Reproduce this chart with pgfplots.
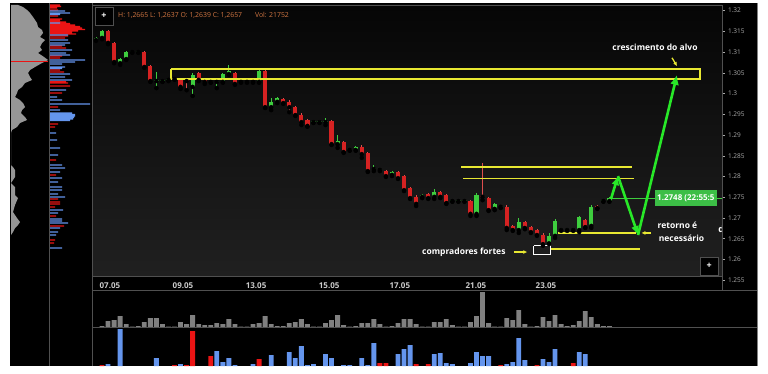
\documentclass[border=0pt]{standalone}
\usepackage{pgfplots}
\pgfplotsset{compat=1.18}
\usepackage{pgfplotstable}
\usepackage{fontspec}
\setmainfont{Open Sans}
\usetikzlibrary{arrows.meta}

\definecolor{cgreen}{RGB}{62,205,62}
\definecolor{cred}{RGB}{214,34,34}
\definecolor{yel}{RGB}{232,232,50}
\definecolor{arrg}{RGB}{40,232,40}
\definecolor{vgrey}{RGB}{128,128,128}
\definecolor{gprof}{RGB}{150,150,150}
\definecolor{vblue}{RGB}{100,149,237}
\definecolor{vred}{RGB}{235,20,20}
\definecolor{sep}{RGB}{80,80,80}
\definecolor{hdr}{RGB}{210,118,66}
\definecolor{lbl}{RGB}{205,205,205}
\definecolor{plbl}{RGB}{170,170,170}
\definecolor{bgtop}{RGB}{6,6,6}
\definecolor{bgbot}{RGB}{32,32,32}
\definecolor{pbox}{RGB}{60,190,70}

% candles: index, open, high, low, close
\pgfplotstableread{
i o h l c
0 1.3129 1.3136 1.3127 1.3134
1 1.3134 1.3153 1.3131 1.3151
4 1.3073 1.3086 1.3069 1.3083
5 1.3083 1.3102 1.3081 1.3100
6 1.3100 1.3104 1.3098 1.3102
7 1.3100 1.3104 1.3098 1.3102
10 1.3030 1.3052 1.3013 1.3033
11 1.3030 1.3035 1.3028 1.3033
12 1.3033 1.3037 1.3030 1.3035
13 1.3035 1.3040 1.3033 1.3037
16 1.3016 1.3049 1.2994 1.3045
20 1.3028 1.3037 1.3013 1.3030
21 1.3028 1.3049 1.3026 1.3047
22 1.3047 1.3069 1.3045 1.3054
24 1.3028 1.3033 1.3026 1.3030
25 1.3028 1.3033 1.3026 1.3030
26 1.3028 1.3033 1.3026 1.3030
27 1.3028 1.3057 1.3026 1.3054
29 1.2967 1.2989 1.2960 1.2980
30 1.2980 1.2992 1.2977 1.2989
36 1.2931 1.2936 1.2929 1.2934
37 1.2931 1.2936 1.2929 1.2934
38 1.2931 1.2941 1.2924 1.2934
40 1.2878 1.2900 1.2869 1.2886
42 1.2864 1.2869 1.2862 1.2866
43 1.2864 1.2874 1.2862 1.2871
46 1.2818 1.2828 1.2813 1.2820
47 1.2816 1.2820 1.2813 1.2818
49 1.2804 1.2813 1.2801 1.2811
54 1.2751 1.2758 1.2748 1.2755
56 1.2751 1.2770 1.2746 1.2763
59 1.2741 1.2746 1.2739 1.2743
60 1.2741 1.2746 1.2739 1.2743
61 1.2741 1.2746 1.2739 1.2743
63 1.2710 1.2760 1.2705 1.2755
66 1.2722 1.2736 1.2719 1.2734
67 1.2727 1.2731 1.2724 1.2729
70 1.2671 1.2700 1.2664 1.2690
75 1.2639 1.2665 1.2637 1.2657
76 1.2657 1.2698 1.2652 1.2693
77 1.2671 1.2676 1.2669 1.2673
78 1.2671 1.2676 1.2669 1.2673
79 1.2671 1.2676 1.2669 1.2673
80 1.2671 1.2705 1.2666 1.2702
82 1.2681 1.2731 1.2676 1.2727
84 1.2741 1.2746 1.2739 1.2743
85 1.2741 1.2751 1.2739 1.2748
}\bull

\pgfplotstableread{
i o h l c
2 1.3151 1.3153 1.3119 1.3122
3 1.3122 1.3124 1.3073 1.3076
8 1.3100 1.3102 1.3062 1.3064
9 1.3066 1.3068 1.3028 1.3030
14 1.3035 1.3037 1.3011 1.3016
15 1.3033 1.3035 1.3008 1.3030
17 1.3049 1.3052 1.3030 1.3033
18 1.3035 1.3037 1.3023 1.3028
19 1.3030 1.3033 1.3026 1.3028
23 1.3049 1.3052 1.3021 1.3023
28 1.3054 1.3057 1.2965 1.2967
31 1.2987 1.2989 1.2975 1.2977
32 1.2980 1.2984 1.2955 1.2967
33 1.2967 1.2970 1.2946 1.2948
34 1.2948 1.2953 1.2924 1.2931
35 1.2936 1.2938 1.2920 1.2922
39 1.2934 1.2936 1.2876 1.2878
41 1.2883 1.2886 1.2857 1.2859
44 1.2871 1.2876 1.2845 1.2854
45 1.2857 1.2859 1.2811 1.2813
48 1.2813 1.2816 1.2799 1.2801
50 1.2811 1.2813 1.2794 1.2796
51 1.2801 1.2804 1.2765 1.2767
52 1.2772 1.2775 1.2746 1.2748
53 1.2751 1.2755 1.2729 1.2734
55 1.2758 1.2760 1.2746 1.2748
57 1.2763 1.2765 1.2748 1.2751
58 1.2755 1.2758 1.2734 1.2736
62 1.2741 1.2743 1.2705 1.2710
64 1.2753 1.2833 1.2743 1.2751
65 1.2748 1.2751 1.2717 1.2719
68 1.2727 1.2731 1.2671 1.2676
69 1.2681 1.2683 1.2669 1.2671
71 1.2690 1.2693 1.2673 1.2676
72 1.2678 1.2681 1.2664 1.2666
73 1.2671 1.2673 1.2657 1.2659
74 1.2659 1.2664 1.2633 1.2637
81 1.2695 1.2698 1.2676 1.2678
83 1.2729 1.2731 1.2722 1.2724
}\bear

\begin{document}
\begin{tikzpicture}
% frame and panels
\fill[white] (0pt,0pt) rectangle (768pt,-374pt);
\fill[black] (10pt,-3pt) rectangle (757pt,-366pt);
\shade[top color=bgtop, bottom color=bgbot] (92pt,-5pt) rectangle (722pt,-276pt);

% ---- left grey volume profile ----
\begin{axis}[at={(11pt,-5pt)}, anchor=north west, scale only axis,
  width=38pt, height=285pt, xmin=11, xmax=49, ymin=5, ymax=290,
  y dir=reverse, hide axis]
\addplot[fill=gprof, draw=none] coordinates {
(11,5) (18,5) (23,7) (27,10) (30,13) (33,17) (35,20) (37,23) (38,27) (42,30)
(43,33) (40,37) (45,40) (42,43) (40,47) (42,50) (38,53) (44,57) (48,60)
(42,63) (35,67) (30,70) (28,73) (30,77) (32,80) (25,83) (22,87) (18,90)
(17,93) (15,97) (20,100) (23,103) (25,107) (22,110) (21,113) (25,117)
(27,120) (20,123) (17,127) (12,130) (11,133) (11,165) (13,167) (15,170)
(15,177) (13,180) (11,183) (15,187) (15,195) (18,198) (15,205) (13,212)
(17,218) (20,222) (18,225) (15,228) (13,232) (11,235)};
\addplot[vred, line width=1pt] coordinates {(11,61) (48,61)};
\end{axis}

% ---- left red/blue profile ----
\begin{axis}[at={(50pt,-5pt)}, anchor=north west, scale only axis,
  width=42pt, height=285pt, xmin=50, xmax=92, ymin=5, ymax=290,
  y dir=reverse, hide axis, xbar, bar width=1.2, bar shift=0pt]
\addplot[fill=vred, draw=none] coordinates {
(60,5) (61,6.5) (57,8) (58,10) (58,16) (62,19) (60,20.5) (66,22) (70,23.5)
(75,25) (80,26.5) (82,28) (85,29.5) (78,31) (72,32.5) (76,34) (68,36) (65,38)
(62,46) (66,48) (62,56) (60,58) (60,70) (64,72) (66,81.5) (68,83) (70,86)
(62,93) (58,107) (58,124) (55,127) (56,160) (56,175) (58,199) (60,202)
(60,204) (55,207) (56,216) (64,226) (55,240) (54,243)};
\addplot[fill=vblue, draw=none] coordinates {
(65,11) (70,13) (60,14.5) (60,23) (68,35) (68,40) (70,43) (65,45) (72,50)
(66,53) (70,55) (85,60) (75,62) (62,64) (65,67) (62,68.5) (70,74) (65,77)
(72,80) (66,90) (57,97) (62,100) (90,104) (60,110) (72,113) (75,114.5)
(75,116) (74,117.5) (73,119) (70,120.5) (56,133) (57,140) (60,148) (58,155)
(62,165) (65,168) (60,172) (62,178) (58,182) (62,187) (62,190) (58,194)
(65,197) (63,210) (58,213) (62,219) (62,221) (68,223) (60,228) (58,232)
(56,235) (62,248)};
\end{axis}

% ---- main candlestick chart ----
\begin{axis}[at={(92pt,-5pt)}, anchor=north west, scale only axis,
  width=630pt, height=285pt,
  xmin=-0.662, xmax=103.64, ymin=1.25265, ymax=1.32133,
  axis line style={draw=none},
  xtick={2.3,14.4,26.5,38.6,50.3,62.9,74.5},
  xticklabels={07.05,09.05,13.05,15.05,17.05,21.05,23.05},
  xtick style={draw=none},
  xticklabel style={anchor=center, yshift=7pt, text=lbl,
    font=\bfseries\fontsize{8}{9}\selectfont},
  ytick={1.255,1.26,1.265,1.27,1.275,1.28,1.285,1.29,1.295,1.3,1.305,1.31,1.315,1.32},
  ytick pos=right, yticklabel pos=right,
  tick align=outside, major tick length=2.5pt,
  ytick style={draw=plbl, line width=0.5pt},
  yticklabel style={text=plbl, font=\fontsize{6.5}{7}\selectfont,
    /pgf/number format/fixed, /pgf/number format/precision=3},
  scaled y ticks=false,
  /pgf/number format/assume math mode=true,
]
% wicks
\addplot[only marks, mark=none, error bars/.cd, y dir=plus, y explicit,
  error mark=none, error bar style={cgreen, line width=0.8pt}]
  table[x=i, y=l, y error plus expr=\thisrow{h}-\thisrow{l}] {\bull};
\addplot[only marks, mark=none, error bars/.cd, y dir=plus, y explicit,
  error mark=none, error bar style={cred!80!white, line width=0.7pt}]
  table[x=i, y=l, y error plus expr=\thisrow{h}-\thisrow{l}] {\bear};
% bodies
\addplot[only marks, mark=none, error bars/.cd, y dir=plus, y explicit,
  error mark=none, error bar style={cgreen, line width=4.2pt}]
  table[x=i, y=o, y error plus expr=\thisrow{c}-\thisrow{o}] {\bull};
\addplot[only marks, mark=none, error bars/.cd, y dir=plus, y explicit,
  error mark=none, error bar style={cred, line width=4.2pt}]
  table[x=i, y=c, y error plus expr=\thisrow{o}-\thisrow{c}] {\bear};

% current price line
\addplot[cgreen, line width=0.5pt] coordinates {(85,1.2748) (103.64,1.2748)};

% yellow target zone
\addplot[yel, line width=1.4pt] coordinates {(12.42,1.3059) (100,1.3059) (100,1.3035) (12.42,1.3035) (12.42,1.3059)};
% yellow levels
\addplot[yel, line width=1.3pt] coordinates {(60.43,1.2823) (88.74,1.2823)};
\addplot[yel, line width=1.3pt] coordinates {(60.76,1.2796) (89.07,1.2796)};
\addplot[yel, line width=1.3pt] coordinates {(76.49,1.2664) (89.4,1.2664)};
\addplot[yel, line width=1.3pt] coordinates {(75.17,1.2625) (90.07,1.2625)};
% yellow pointers
\addplot[yel, line width=1.3pt, -{Latex[length=4pt,width=4pt]}] coordinates {(91.9,1.2664) (90.3,1.2664)};
\addplot[yel, line width=1.3pt, -{Latex[length=4pt,width=4pt]}] coordinates {(69.2,1.2618) (71.4,1.2618)};
\addplot[yel, line width=1.3pt, -{Latex[length=4pt,width=4pt]}] coordinates {(95.36,1.3086) (96.19,1.3066)};
% white box
\addplot[white, line width=1pt] coordinates {(72.5,1.2633) (75.3,1.2633) (75.3,1.2611) (72.5,1.2611) (72.5,1.2633)};

% green projection arrows
\addplot[arrg, line width=2.6pt, -{Latex[length=9pt,width=8pt]}] coordinates {(85.26,1.2746) (86.42,1.2801)};
\addplot[arrg, line width=2.6pt, -{Latex[length=9pt,width=8pt]}] coordinates {(86.42,1.2801) (89.74,1.2659)};
\addplot[arrg, line width=2.6pt, -{Latex[length=10pt,width=9pt]}] coordinates {(89.74,1.2659) (96.19,1.3045)};

% texts
\node[text=white, font=\bfseries\fontsize{8.5}{9}\selectfont] at (92.55,1.3112) {crescimento do alvo};
\node[text=white, anchor=west, font=\bfseries\fontsize{8.5}{9}\selectfont] at (92.4,1.2683) {retorno é};
\node[text=white, anchor=west, font=\bfseries\fontsize{8.5}{9}\selectfont] at (92.6,1.2652) {necessário};
\node[text=white, font=\bfseries\fontsize{8.5}{9}\selectfont] at (60.9,1.2618) {compradores fortes};
\node[text=white, anchor=west, font=\bfseries\fontsize{9}{9}\selectfont, inner sep=0pt] at (103.0,1.2673) {d};
\node[anchor=west, fill=pbox, text=white, inner sep=2pt, minimum height=16pt,
  font=\bfseries\fontsize{8}{9}\selectfont] at (92.55,1.2748) {1.2748 (22:55:5};
\node[anchor=west, text=hdr, inner sep=0pt, font=\fontsize{6.9}{7}\selectfont] at (3.64,1.3189) {H: 1,2665 L: 1,2637 O: 1,2639 C: 1,2657};
\node[anchor=west, text=hdr, inner sep=0pt, font=\fontsize{6.9}{7}\selectfont] at (26.3,1.3189) {Vol: 21752};
\node[draw=sep, fill=black, minimum size=18pt, inner sep=0pt, text=white,
  font=\bfseries\fontsize{9}{9}\selectfont] at (1.32,1.31868) {+};
\node[draw=sep, fill=black, minimum size=18pt, inner sep=0pt, text=white,
  font=\bfseries\fontsize{9}{9}\selectfont] at (101.5,1.25843) {+};
\end{axis}

% ---- volume panel (grey) ----
\begin{axis}[at={(92pt,-291pt)}, anchor=north west, scale only axis,
  width=630pt, height=36pt, xmin=-0.662, xmax=103.64, ymin=0, ymax=36,
  hide axis, ybar, bar width=0.8, bar shift=0pt]
\addplot[fill=vgrey, draw=none] coordinates {
(1,1) (2,6) (3,7) (4,11) (5,3) (6,0.5) (7,1) (8,5) (9,9) (10,9) (11,3)
(12,0.5) (13,0.5) (14,5) (15,3) (16,12) (17,3) (18,2) (19,2) (20,4) (21,3)
(22,8) (23,3) (24,0.5) (25,0.5) (26,3) (27,4) (28,11) (29,3) (30,1) (31,1)
(32,4) (33,5) (34,8) (35,3) (36,0.5) (37,0.5) (38,4) (39,7) (40,12) (41,2)
(42,0.5) (43,1) (44,4) (45,4) (46,8) (47,3) (48,0.5) (49,1) (50,4) (51,8)
(52,8) (53,3) (54,0.5) (55,0.5) (56,5) (57,5) (58,8) (59,2) (60,0.5) (61,0.5)
(62,5) (63,11) (64,35) (65,4) (66,0.5) (67,0.5) (68,9) (69,7) (70,17) (71,3)
(72,0.5) (73,1) (74,10) (75,6) (76,12) (77,3) (78,1) (79,2) (80,6) (81,16)
(82,10) (83,3) (84,1) (85,1)};
\end{axis}

% ---- delta panel (blue / red) ----
\begin{axis}[at={(92pt,-328pt)}, anchor=north west, scale only axis,
  width=630pt, height=38pt, xmin=-0.662, xmax=103.64, ymin=0, ymax=38,
  hide axis, ybar, bar width=0.8, bar shift=0pt]
\addplot[fill=vblue, draw=none] coordinates {
(2,2) (4,37) (10,8) (14,2) (20,15) (21,4) (22,8) (23,1) (26,2) (29,11)
(32,14) (33,8) (34,20) (35,1) (36,2) (38,12) (39,8) (41,1) (42,1) (44,8)
(45,1) (46,23) (50,12) (51,17) (52,21) (56,12) (57,13) (58,3) (59,2) (62,3)
(63,14) (64,10) (65,10) (68,2) (69,4) (70,28) (71,6) (74,7) (75,4) (76,17)
(80,14) (81,12)};
\addplot[fill=vred, draw=none] coordinates {
(1,1) (13,1) (15,1) (16,35) (19,10) (27,7) (47,3) (48,3) (53,2) (55,2)
(67,1) (73,1) (79,3)};
\end{axis}

% separators and borders
\draw[sep, line width=0.8pt] (92pt,-5pt) rectangle (722pt,-276pt);
\draw[sep, line width=0.8pt] (722pt,-276pt) -- (722pt,-290pt);
\draw[sep, line width=0.8pt] (92pt,-290pt) -- (757pt,-290pt);
\draw[sep, line width=0.8pt] (92pt,-327pt) -- (757pt,-327pt);
\draw[sep, line width=0.8pt] (49.5pt,-3pt) -- (49.5pt,-366pt);
\draw[sep, line width=0.8pt] (92pt,-3pt) -- (92pt,-366pt);
\draw[gray, line width=0.8pt] (757pt,-3pt) -- (757pt,-366pt);
\end{tikzpicture}
\end{document}
